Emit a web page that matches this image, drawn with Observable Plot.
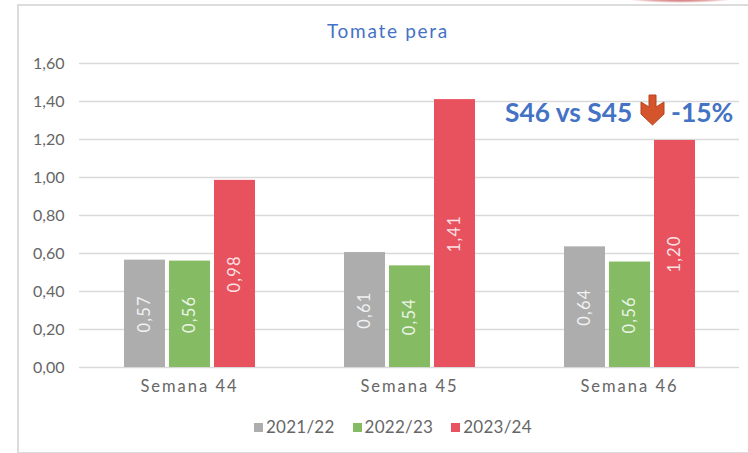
<!DOCTYPE html>
<html><head><meta charset="utf-8">
<script src="https://cdn.jsdelivr.net/npm/d3@7"></script>
<script src="https://cdn.jsdelivr.net/npm/@observablehq/plot@0.6"></script>
<style>
html,body{margin:0;padding:0;background:#fff;overflow:hidden}
#wrap{position:relative;width:748px;height:453px;overflow:hidden}
#wrap svg{display:block}
.ov{position:absolute;white-space:nowrap;font-family:Lato,sans-serif}
.wk text{letter-spacing:2px}
.bl text{letter-spacing:1.2px}
#title{left:327px;top:19px;font-size:19px;color:#4472c4;font-weight:400;letter-spacing:1.7px}
#note{left:505px;top:97px;font-size:26.3px;font-weight:700;color:#4472c4;line-height:30px}
#arrow{left:640px;top:94px;width:25px;height:32px}
#pct{left:671px;top:97px;font-size:26.5px;font-weight:700;color:#4472c4;line-height:30px}
#legend{left:254px;top:417px;font-size:17px;color:#666;font-weight:400;display:flex;letter-spacing:.25px;line-height:20px}
#legend span.i{display:flex;align-items:center;margin-right:18px}
#legend b{display:inline-block;width:9px;height:9px;margin-right:3px}
#frame{left:17px;top:4px;width:745px;height:446px;border:2px solid #dcdcdc;border-right:none;box-sizing:content-box}
#top{left:625px;top:-6px;width:110px;height:9px;border-radius:50%;background:radial-gradient(closest-side,#c0393c,#e8b5b5 70%,#fff)}
</style></head><body>
<div id="wrap"></div>
<script>
const weeks = ["Semana 44", "Semana 45", "Semana 46"];
const seasons = ["2021/22", "2022/23", "2023/24"];
const colors = ["#adadad", "#84bb63", "#e8525e"];
const v2122 = [0.565, 0.605, 0.635];
const v2223 = [0.56, 0.535, 0.555];
const v2324 = [0.985, 1.41, 1.195];
const labels2122 = ["0,57", "0,61", "0,64"];
const labels2223 = ["0,56", "0,54", "0,56"];
const labels2324 = ["0,98", "1,41", "1,20"];
const yTicks = [0, 0.2, 0.4, 0.6, 0.8, 1.0, 1.2, 1.4, 1.6];

const rows = [];
weeks.forEach((w, i) => {
  rows.push({week: w, season: seasons[0], value: v2122[i], label: labels2122[i]});
  rows.push({week: w, season: seasons[1], value: v2223[i], label: labels2223[i]});
  rows.push({week: w, season: seasons[2], value: v2324[i], label: labels2324[i]});
});
const comma = d => d.toFixed(2).replace(".", ",");
const font = "Lato, sans-serif";

const chart = Plot.plot({
  width: 748, height: 453,
  marginTop: 63, marginBottom: 86, marginLeft: 78, marginRight: 8,
  style: {fontFamily: font, background: "transparent", overflow: "visible"},
  fx: {domain: weeks, padding: 0, label: null, axis: null},
  x: {domain: seasons, paddingInner: 0.089, paddingOuter: 0.95, axis: null},
  y: {domain: [0, 1.6], ticks: yTicks, label: null, axis: null},
  color: {domain: seasons, range: colors},
  marks: [
    Plot.gridY(yTicks, {stroke: "#d9d9d9", strokeWidth: 1.5, strokeOpacity: 1}),
    Plot.axisY(yTicks, {tickSize: 0, tickPadding: 0, dx: -15, tickFormat: comma, label: null, fontSize: 16, fill: "#666", fontWeight: 400, anchor: "left"}),
    Plot.barY(rows, {fx: "week", x: "season", y: "value", fill: "season"}),
    Plot.text(rows, {fx: "week", x: "season", y: d => d.value / 2, text: "label", rotate: -90, fill: "#fff", fillOpacity: 0.85, fontSize: 16.5, fontWeight: 400, className: "bl"}),
    Plot.axisFx({anchor: "bottom", tickSize: 0, tickPadding: 13, label: null, fontSize: 16.5, fill: "#666", fontWeight: 400, className: "wk"})
  ]
});
const wrap = document.getElementById("wrap");
wrap.appendChild(chart);
wrap.insertAdjacentHTML("beforeend", `
<div class="ov" id="frame"></div>
<div class="ov" id="top"></div>
<div class="ov" id="title">Tomate pera</div>
<div class="ov" id="note">S46 vs S45</div>
<svg class="ov" id="arrow" viewBox="0 0 25 32"><path d="M9 1H16V13L24 8V20L12.5 31L1 20V8L9 13Z" fill="#d4552b" stroke="#b8431f" stroke-width="1"/></svg>
<div class="ov" id="pct">-15%</div>
<div class="ov" id="legend">${seasons.map((s, i) => `<span class="i"><b style="background:${colors[i]}"></b>${s}</span>`).join("")}</div>`);
</script></body></html>
